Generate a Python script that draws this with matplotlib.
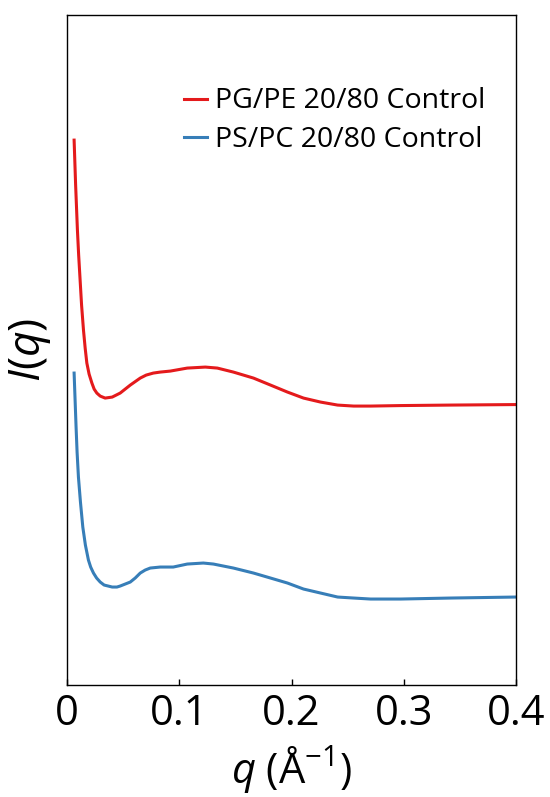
import numpy as np
import matplotlib
matplotlib.use('Agg')
import matplotlib.pyplot as plt

plt.rcParams['font.family'] = ['Open Sans', 'DejaVu Sans']
plt.rcParams['mathtext.fontset'] = 'custom'
plt.rcParams['mathtext.rm'] = 'Open Sans'
plt.rcParams['mathtext.it'] = 'Open Sans:italic'

# PG/PE 20/80 control (arb. units)
q_pg = [0.00625, 0.0076, 0.0092, 0.0103, 0.0116, 0.0129, 0.0146, 0.0161, 0.0176, 0.0196,
        0.0221, 0.0241, 0.0265, 0.0295, 0.0339, 0.0402, 0.0473, 0.0563, 0.0652, 0.0705,
        0.0768, 0.0830, 0.0920, 0.1071, 0.1232, 0.1339, 0.1482, 0.1661, 0.1813, 0.1964,
        0.2107, 0.2259, 0.2411, 0.2554, 0.2705, 0.2973, 0.3420, 0.4000]
I_pg = [5.45, 5.00, 4.55, 4.30, 4.05, 3.80, 3.55, 3.37, 3.22, 3.11,
        3.02, 2.96, 2.92, 2.89, 2.87, 2.88, 2.92, 3.00, 3.07, 3.10,
        3.12, 3.13, 3.14, 3.17, 3.18, 3.17, 3.13, 3.07, 3.00, 2.93,
        2.87, 2.83, 2.80, 2.79, 2.79, 2.795, 2.80, 2.805]

# PS/PC 20/80 control
q_ps = [0.00625, 0.0080, 0.0089, 0.0101, 0.0119, 0.0140, 0.0163, 0.0190, 0.0210, 0.0235,
        0.0263, 0.0295, 0.0330, 0.0366, 0.0402, 0.0444, 0.0473, 0.0563, 0.0607, 0.0652,
        0.0696, 0.0741, 0.0830, 0.0946, 0.1071, 0.1214, 0.1304, 0.1482, 0.1661, 0.1813,
        0.1964, 0.2107, 0.2259, 0.2411, 0.2554, 0.2705, 0.2973, 0.3420, 0.4000]
I_ps = [3.12, 2.58, 2.33, 2.08, 1.83, 1.58, 1.40, 1.25, 1.18, 1.12,
        1.07, 1.03, 1.00, 0.99, 0.98, 0.98, 0.99, 1.03, 1.07, 1.12,
        1.15, 1.17, 1.18, 1.18, 1.21, 1.22, 1.21, 1.17, 1.12, 1.07,
        1.02, 0.96, 0.92, 0.88, 0.87, 0.86, 0.86, 0.87, 0.88]

labels = ['PG/PE 20/80 Control', 'PS/PC 20/80 Control']
colours = ['#e41a1c', '#377eb8']
xticks = [0, 0.1, 0.2, 0.3, 0.4]
xticklabels = ['0', '0.1', '0.2', '0.3', '0.4']

fig = plt.figure(figsize=(5.5, 7.97), dpi=100)
ax = fig.add_axes([0.122, 0.1405, 0.816, 0.8405])

ax.plot(q_pg, I_pg, color=colours[0], lw=2.2, label=labels[0])
ax.plot(q_ps, I_ps, color=colours[1], lw=2.2, label=labels[1])

ax.set_xlim(0, 0.4)
ax.set_ylim(0, 6.7)
ax.set_xticks(xticks)
ax.set_xticklabels(xticklabels)
ax.set_yticks([])
ax.tick_params(axis='x', direction='in', length=4, width=1, labelsize=30, pad=6)
for s in ax.spines.values():
    s.set_linewidth(1.0)

ax.set_xlabel(r'$q$ (Å$^{-1}$)', fontsize=30, labelpad=7)
ax.set_ylabel(r'$I$($q$)', fontsize=32, labelpad=10)

ax.legend(loc='upper right', bbox_to_anchor=(0.933, 0.892), frameon=False, fontsize=20.5,
          handlelength=0.8, handletextpad=0.3, labelspacing=0.38, borderpad=0, borderaxespad=0)

fig.savefig('out.png', dpi=100)
